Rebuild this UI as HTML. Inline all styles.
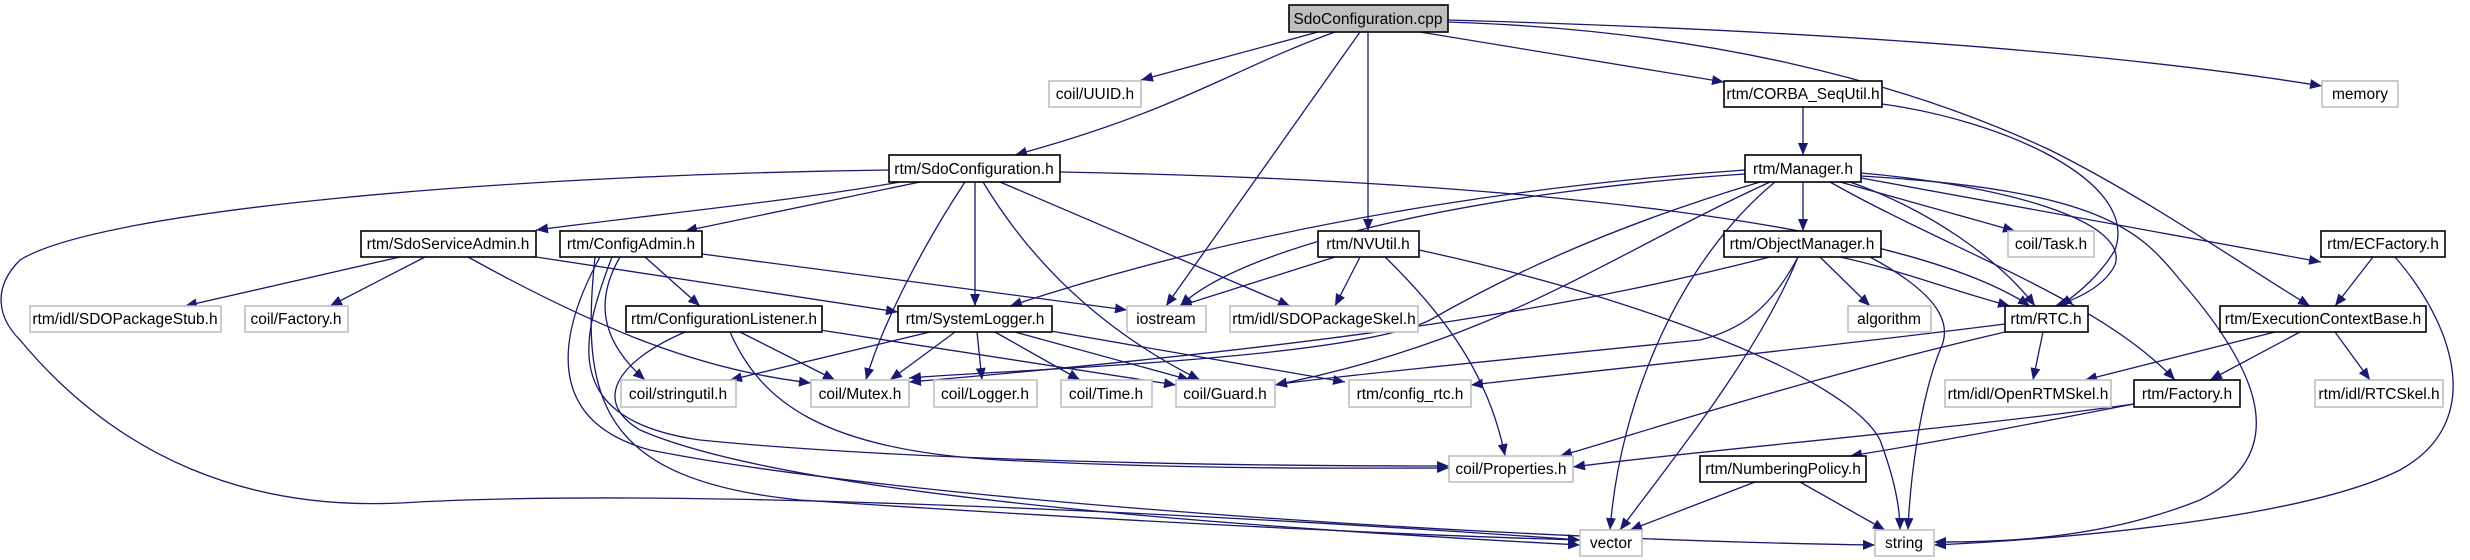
<!DOCTYPE html>
<html><head><meta charset="utf-8"><style>
html,body{margin:0;padding:0;background:#fff;width:2470px;height:560px;overflow:hidden}
svg{display:block}
text{font-family:"Liberation Sans","DejaVu Sans",sans-serif;font-size:15.5px;fill:#000;text-anchor:middle}
.b{fill:#fff;stroke:#000;stroke-width:1.6}
.g{fill:#fff;stroke:#bfbfbf;stroke-width:1.6}
.e path{fill:none;stroke:#191970;stroke-width:1.3}
</style></head><body>
<svg width="2470" height="560" viewBox="0 0 2470 560" xmlns="http://www.w3.org/2000/svg">
<defs><marker id="a" markerWidth="13" markerHeight="10" refX="12" refY="5" orient="auto" markerUnits="userSpaceOnUse"><path d="M0,0 L12,5 L0,10 z" fill="#191970" stroke="none"/></marker></defs>
<g class="e">
<path marker-end="url(#a)" d="M1318,32 L1141,80"/>
<path marker-end="url(#a)" d="M1335,32 C1230,70 1180,110 1015,155"/>
<path marker-end="url(#a)" d="M1360,32 L1166,306"/>
<path marker-end="url(#a)" d="M1368,32 L1368,231"/>
<path marker-end="url(#a)" d="M1420,32 L1724,82"/>
<path marker-end="url(#a)" d="M1448,22 C1700,30 1900,80 2050,150 C2150,200 2250,270 2310,306"/>
<path marker-end="url(#a)" d="M1448,20 C1800,30 2100,50 2322,86"/>
<path marker-end="url(#a)" d="M900,182 C800,200 650,215 536,230"/>
<path marker-end="url(#a)" d="M920,182 L685,231"/>
<path marker-end="url(#a)" d="M889,170 C500,175 100,210 20,260 C-10,290 0,320 20,340 C120,460 250,510 400,503 C700,485 1300,520 1580,540"/>
<path marker-end="url(#a)" d="M965,182 C920,250 880,330 866,380"/>
<path marker-end="url(#a)" d="M975,182 L975,306"/>
<path marker-end="url(#a)" d="M983,182 C1030,260 1100,330 1200,380"/>
<path marker-end="url(#a)" d="M1000,182 L1290,306"/>
<path marker-end="url(#a)" d="M1060,172 C1500,180 1900,220 2030,306"/>
<path marker-end="url(#a)" d="M400,257 L185,306"/>
<path marker-end="url(#a)" d="M425,257 L330,306"/>
<path marker-end="url(#a)" d="M536,257 L898,312"/>
<path marker-end="url(#a)" d="M468,257 C600,330 700,370 811,383"/>
<path marker-end="url(#a)" d="M702,254 L1127,310"/>
<path marker-end="url(#a)" d="M645,257 L700,306"/>
<path marker-end="url(#a)" d="M620,257 C595,300 600,340 645,380"/>
<path marker-end="url(#a)" d="M612,257 C580,340 560,420 700,440 C900,460 1200,466 1449,466"/>
<path marker-end="url(#a)" d="M600,257 C560,330 540,420 650,450 C900,500 1500,540 1875,545"/>
<path marker-end="url(#a)" d="M595,257 C580,400 600,480 800,500 C1100,520 1400,535 1580,540"/>
<path marker-end="url(#a)" d="M740,332 L835,380"/>
<path marker-end="url(#a)" d="M820,330 L1176,385"/>
<path marker-end="url(#a)" d="M730,332 C760,400 820,450 1000,460 C1200,470 1350,468 1449,468"/>
<path marker-end="url(#a)" d="M685,332 C620,360 590,400 640,430 C800,500 1300,530 1580,545"/>
<path marker-end="url(#a)" d="M930,332 L730,380"/>
<path marker-end="url(#a)" d="M955,332 L890,380"/>
<path marker-end="url(#a)" d="M977,332 L982,380"/>
<path marker-end="url(#a)" d="M995,332 L1080,380"/>
<path marker-end="url(#a)" d="M1015,332 L1190,380"/>
<path marker-end="url(#a)" d="M1045,330 L1345,382"/>
<path marker-end="url(#a)" d="M1335,257 L1180,306"/>
<path marker-end="url(#a)" d="M1360,257 L1335,306"/>
<path marker-end="url(#a)" d="M1385,257 C1450,320 1490,380 1505,456"/>
<path marker-end="url(#a)" d="M1419,250 C1650,300 1850,380 1880,440 C1895,480 1900,510 1900,530"/>
<path marker-end="url(#a)" d="M1803,107 L1803,155"/>
<path marker-end="url(#a)" d="M1882,104 C2000,120 2140,180 2115,250 C2100,275 2080,292 2060,306"/>
<path marker-end="url(#a)" d="M1745,170 C1600,180 1300,210 1010,306"/>
<path marker-end="url(#a)" d="M1745,174 C1500,190 1250,240 1180,306"/>
<path marker-end="url(#a)" d="M1760,182 C1600,230 1500,280 1430,320 C1350,360 1000,370 909,378"/>
<path marker-end="url(#a)" d="M1770,182 C1600,260 1500,340 1275,385"/>
<path marker-end="url(#a)" d="M1775,182 C1680,260 1620,400 1610,530"/>
<path marker-end="url(#a)" d="M1803,182 L1803,231"/>
<path marker-end="url(#a)" d="M1840,182 L2015,231"/>
<path marker-end="url(#a)" d="M1861,173 C2000,185 2130,220 2115,265 C2105,285 2080,298 2055,306"/>
<path marker-end="url(#a)" d="M1850,182 C1930,210 2000,260 2035,306"/>
<path marker-end="url(#a)" d="M1830,182 C1950,250 2100,300 2175,380"/>
<path marker-end="url(#a)" d="M1861,178 L2321,262"/>
<path marker-end="url(#a)" d="M1861,176 C2100,190 2140,230 2180,280 C2250,360 2300,450 2200,500 C2100,540 2000,542 1934,542"/>
<path marker-end="url(#a)" d="M1770,257 C1600,300 1400,340 909,382"/>
<path marker-end="url(#a)" d="M1798,257 C1770,310 1740,330 1700,340 C1500,360 1300,380 1275,385"/>
<path marker-end="url(#a)" d="M1798,257 C1760,350 1680,450 1620,530"/>
<path marker-end="url(#a)" d="M1820,257 L1870,306"/>
<path marker-end="url(#a)" d="M1840,257 C1900,270 1950,290 2010,306"/>
<path marker-end="url(#a)" d="M1870,257 C1950,300 1950,330 1940,350 C1920,400 1910,480 1908,530"/>
<path marker-end="url(#a)" d="M2373,257 L2335,306"/>
<path marker-end="url(#a)" d="M2395,257 C2450,320 2490,420 2400,470 C2300,520 2050,540 1934,545"/>
<path marker-end="url(#a)" d="M2043,332 L2033,380"/>
<path marker-end="url(#a)" d="M2005,324 C1800,350 1600,370 1471,385"/>
<path marker-end="url(#a)" d="M2005,332 C1800,380 1650,430 1560,456"/>
<path marker-end="url(#a)" d="M2275,332 L2085,380"/>
<path marker-end="url(#a)" d="M2300,332 L2210,380"/>
<path marker-end="url(#a)" d="M2335,332 L2370,380"/>
<path marker-end="url(#a)" d="M2134,404 C1950,430 1700,450 1573,467"/>
<path marker-end="url(#a)" d="M2134,404 C2050,420 1950,440 1850,456"/>
<path marker-end="url(#a)" d="M1755,482 L1630,530"/>
<path marker-end="url(#a)" d="M1800,482 L1885,530"/>
</g>
<g>
<rect x="1289" y="5" width="159" height="27" fill="#bfbfbf" stroke="#000" stroke-width="1.6"/><text x="1368" y="24">SdoConfiguration.cpp</text>
<rect class="g" x="1049" y="81" width="92" height="26"/><text x="1095" y="99">coil/UUID.h</text>
<rect class="b" x="1724" y="81" width="158" height="26"/><text x="1803" y="99">rtm/CORBA_SeqUtil.h</text>
<rect class="g" x="2322" y="81" width="76" height="26"/><text x="2360" y="99">memory</text>
<rect class="b" x="889" y="155" width="171" height="27"/><text x="974" y="174">rtm/SdoConfiguration.h</text>
<rect class="b" x="1745" y="155" width="116" height="27"/><text x="1803" y="174">rtm/Manager.h</text>
<rect class="b" x="361" y="231" width="175" height="26"/><text x="448" y="249">rtm/SdoServiceAdmin.h</text>
<rect class="b" x="560" y="231" width="142" height="26"/><text x="631" y="249">rtm/ConfigAdmin.h</text>
<rect class="b" x="1318" y="231" width="101" height="26"/><text x="1368" y="249">rtm/NVUtil.h</text>
<rect class="b" x="1724" y="231" width="157" height="26"/><text x="1802" y="249">rtm/ObjectManager.h</text>
<rect class="g" x="2008" y="231" width="86" height="26"/><text x="2051" y="249">coil/Task.h</text>
<rect class="b" x="2321" y="231" width="124" height="26"/><text x="2383" y="249">rtm/ECFactory.h</text>
<rect class="g" x="30" y="306" width="191" height="26"/><text x="125" y="324">rtm/idl/SDOPackageStub.h</text>
<rect class="g" x="245" y="306" width="103" height="26"/><text x="296" y="324">coil/Factory.h</text>
<rect class="b" x="626" y="306" width="196" height="26"/><text x="724" y="324">rtm/ConfigurationListener.h</text>
<rect class="b" x="898" y="306" width="154" height="26"/><text x="975" y="324">rtm/SystemLogger.h</text>
<rect class="g" x="1127" y="306" width="79" height="26"/><text x="1166" y="324">iostream</text>
<rect class="g" x="1230" y="306" width="188" height="26"/><text x="1324" y="324">rtm/idl/SDOPackageSkel.h</text>
<rect class="g" x="1848" y="306" width="83" height="26"/><text x="1889" y="324">algorithm</text>
<rect class="b" x="2005" y="306" width="83" height="26"/><text x="2046" y="324">rtm/RTC.h</text>
<rect class="b" x="2220" y="306" width="206" height="26"/><text x="2323" y="324">rtm/ExecutionContextBase.h</text>
<rect class="g" x="621" y="380" width="115" height="27"/><text x="678" y="399">coil/stringutil.h</text>
<rect class="g" x="811" y="380" width="98" height="27"/><text x="860" y="399">coil/Mutex.h</text>
<rect class="g" x="934" y="380" width="103" height="27"/><text x="985" y="399">coil/Logger.h</text>
<rect class="g" x="1061" y="380" width="91" height="27"/><text x="1106" y="399">coil/Time.h</text>
<rect class="g" x="1176" y="380" width="99" height="27"/><text x="1225" y="399">coil/Guard.h</text>
<rect class="g" x="1349" y="380" width="122" height="27"/><text x="1410" y="399">rtm/config_rtc.h</text>
<rect class="g" x="1945" y="380" width="166" height="27"/><text x="2028" y="399">rtm/idl/OpenRTMSkel.h</text>
<rect class="b" x="2134" y="380" width="106" height="27"/><text x="2187" y="399">rtm/Factory.h</text>
<rect class="g" x="2315" y="380" width="128" height="27"/><text x="2379" y="399">rtm/idl/RTCSkel.h</text>
<rect class="g" x="1449" y="456" width="124" height="26"/><text x="1511" y="474">coil/Properties.h</text>
<rect class="b" x="1700" y="456" width="166" height="26"/><text x="1783" y="474">rtm/NumberingPolicy.h</text>
<rect class="g" x="1580" y="530" width="62" height="26"/><text x="1611" y="548">vector</text>
<rect class="g" x="1875" y="530" width="59" height="26"/><text x="1904" y="548">string</text>
</g>
</svg>
</body></html>
